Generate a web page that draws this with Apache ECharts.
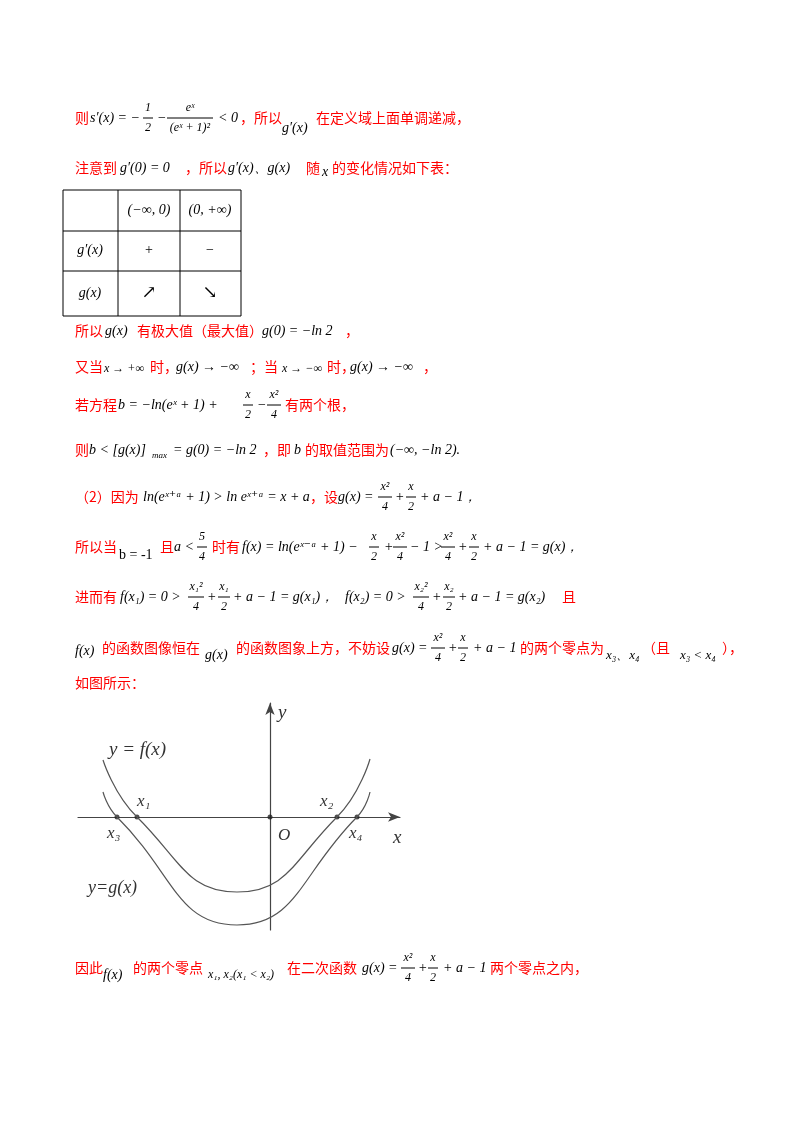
<!DOCTYPE html>
<html><head><meta charset="utf-8">
<script src="https://cdn.jsdelivr.net/npm/echarts@6/dist/echarts.min.js"></script>
<style>html,body{margin:0;padding:0;background:#fff}#main{width:800px;height:1132px}</style>
</head><body><div id="main"></div>
<script>
// curve sample points
var fPoints = [[-4.175,1.425],[-3.325,0],[-0.825,-1.875],[1.675,0],[2.5,1.45]];
var gPoints = [[-4.175,0.625],[-3.825,0],[-0.825,-2.7],[2.175,0],[2.5,0.625]];
var zeroPoints = [[-3.325,0],[1.675,0],[-3.825,0],[2.175,0],[0,0]];

var RED = '#ff0000', BLK = '#000';
var MATH = '"Liberation Serif", "DejaVu Serif", serif';
var CJK = '"Noto Sans CJK SC", sans-serif';
var els = [];

function t(x, y, s, opt) {
  opt = opt || {};
  var red = opt.red;
  els.push({type: 'text', style: {
    x: x, y: y, text: s, fill: red ? RED : BLK,
    fontSize: opt.size || 14,
    fontFamily: red ? CJK : MATH,
    fontStyle: (red || opt.upright) ? 'normal' : 'italic',
    align: opt.align || 'left', verticalAlign: 'middle'
  }});
}
function r(x, y, s) { t(x, y, s, {red: true}); }
function frac(cx, y, num, den, w) {
  w = w || 14;
  t(cx, y - 10, num, {align: 'center', size: 12});
  t(cx, y + 10, den, {align: 'center', size: 12});
  els.push({type: 'line', shape: {x1: cx - w / 2, y1: y, x2: cx + w / 2, y2: y}, style: {stroke: BLK, lineWidth: 1}});
}
function hl(x1, y1, x2, y2) {
  els.push({type: 'line', shape: {x1: x1, y1: y1, x2: x2, y2: y2}, style: {stroke: BLK, lineWidth: 1}});
}

// line 1
r(75, 118, '则');
t(90, 118, 's′(x) = −');
frac(148, 118, '1', '2', 10);
t(157, 118, '−');
frac(190, 118, 'eˣ', '(eˣ + 1)²', 46);
t(218, 118, '< 0');
r(240, 118, '，所以');
t(282, 128, 'g′(x)');
r(316, 118, '在定义域上面单调递减，');
// line 2
r(75, 168, '注意到');
t(120, 168, 'g′(0) = 0');
r(185, 168, '，所以');
t(228, 168, 'g′(x)、g(x)');
r(306, 168, '随');
t(322, 172, 'x');
r(332, 168, '的变化情况如下表：');
// table
var cols = [63, 118, 180, 241], rows = [190, 231, 271, 316];
rows.forEach(function (y) { hl(cols[0], y, cols[3], y); });
cols.forEach(function (x) { hl(x, rows[0], x, rows[3]); });
t(149, 210, '(−∞, 0)', {align: 'center'});
t(210, 210, '(0, +∞)', {align: 'center'});
t(90, 250, 'g′(x)', {align: 'center'});
t(149, 250, '+', {align: 'center', upright: true});
t(210, 250, '−', {align: 'center', upright: true});
t(90, 293, 'g(x)', {align: 'center'});
t(149, 293, '↗', {align: 'center', upright: true, size: 18});
t(210, 293, '↘', {align: 'center', upright: true, size: 18});
// line 3
r(75, 331, '所以');
t(105, 331, 'g(x)');
r(137, 331, '有极大值（最大值）');
t(262, 331, 'g(0) = −ln 2');
r(345, 331, '，');
// line 4
r(75, 367, '又当');
t(104, 369, 'x → +∞', {size: 12});
r(150, 367, '时，');
t(176, 367, 'g(x) → −∞');
r(250, 367, '；当');
t(282, 369, 'x → −∞', {size: 12});
r(327, 367, '时，');
t(350, 367, 'g(x) → −∞');
r(423, 367, '，');
// line 5
r(75, 405, '若方程');
t(118, 405, 'b = −ln(eˣ + 1) +');
frac(248, 405, 'x', '2', 10);
t(257, 405, '−');
frac(274, 405, 'x²', '4', 14);
r(285, 405, '有两个根，');
// line 6
r(75, 450, '则');
t(89, 450, 'b < [g(x)]');
t(152, 456, 'max', {size: 9});
t(173, 450, '= g(0) = −ln 2');
r(263, 450, '，即');
t(294, 450, 'b');
r(305, 450, '的取值范围为');
t(390, 450, '(−∞, −ln 2).');
// line 7
r(75, 497, '（2）因为');
t(143, 497, 'ln(eˣ⁺ᵃ + 1) > ln eˣ⁺ᵃ = x + a');
r(310, 497, '，设');
t(338, 497, 'g(x) =');
frac(385, 497, 'x²', '4', 14);
t(395, 497, '+');
frac(411, 497, 'x', '2', 10);
t(420, 497, '+ a − 1，');
// line 8
r(75, 547, '所以当');
t(119, 555, 'b = -1', {upright: true});
r(160, 547, '且');
t(174, 547, 'a <');
frac(202, 547, '5', '4', 10);
r(212, 547, '时有');
t(242, 547, 'f(x) = ln(eˣ⁻ᵃ + 1) −');
frac(374, 547, 'x', '2', 10);
t(384, 547, '+');
frac(400, 547, 'x²', '4', 14);
t(410, 547, '− 1 >');
frac(448, 547, 'x²', '4', 14);
t(458, 547, '+');
frac(474, 547, 'x', '2', 10);
t(483, 547, '+ a − 1 = g(x)，');
// line 9
r(75, 597, '进而有');
t(120, 597, 'f(x₁) = 0 >');
frac(196, 597, 'x₁²', '4', 16);
t(207, 597, '+');
frac(224, 597, 'x₁', '2', 12);
t(233, 597, '+ a − 1 = g(x₁)，');
t(345, 597, 'f(x₂) = 0 >');
frac(421, 597, 'x₂²', '4', 16);
t(432, 597, '+');
frac(449, 597, 'x₂', '2', 12);
t(458, 597, '+ a − 1 = g(x₂)');
r(562, 597, '且');
// line 10
t(75, 651, 'f(x)');
r(102, 648, '的函数图像恒在');
t(205, 655, 'g(x)');
r(236, 648, '的函数图象上方，不妨设');
t(392, 648, 'g(x) =');
frac(438, 648, 'x²', '4', 14);
t(448, 648, '+');
frac(463, 648, 'x', '2', 10);
t(473, 648, '+ a − 1');
r(520, 648, '的两个零点为');
t(606, 656, 'x₃、x₄', {size: 13});
r(642, 648, '（且');
t(680, 656, 'x₃ < x₄', {size: 13});
r(722, 648, '），');
// line 11
r(75, 683, '如图所示：');
// line 12
r(75, 968, '因此');
t(103, 975, 'f(x)');
r(133, 968, '的两个零点');
t(208, 975, 'x₁, x₂(x₁ < x₂)', {size: 12});
r(287, 968, '在二次函数');
t(362, 968, 'g(x) =');
frac(408, 968, 'x²', '4', 14);
t(418, 968, '+');
frac(433, 968, 'x', '2', 10);
t(443, 968, '+ a − 1');
r(490, 968, '两个零点之内，');
// graph labels
var LAB = {fontFamily: '"Liberation Serif", serif', fill: '#333'};
function gl(x, y, s, size) {
  els.push({type: 'text', style: Object.assign({x: x, y: y, text: s, fontSize: size || 17,
    fontStyle: 'italic', verticalAlign: 'middle'}, LAB)});
}
gl(109, 750, 'y = f(x)', 19);
gl(88, 888, 'y=g(x)', 18);
gl(137, 802, 'x₁');
gl(320, 802, 'x₂');
gl(107, 834, 'x₃');
gl(349, 834, 'x₄');
gl(278, 836, 'O');
gl(393, 838, 'x', 19);
gl(278, 713, 'y', 19);

var chart = echarts.init(document.getElementById('main'));
chart.setOption({
  backgroundColor: '#fff',
  animation: false,
  grid: {left: 78, top: 703, width: 322, height: 227},
  xAxis: {type: 'value', min: -4.8, max: 3.25, splitLine: {show: false},
    axisLabel: {show: false}, axisTick: {show: false},
    axisLine: {onZero: true, symbol: ['none', 'arrow'], symbolSize: [7, 12], lineStyle: {color: '#444', width: 1.2}}},
  yAxis: {type: 'value', min: -2.825, max: 2.85, splitLine: {show: false},
    axisLabel: {show: false}, axisTick: {show: false},
    axisLine: {onZero: true, symbol: ['none', 'arrow'], symbolSize: [7, 12], lineStyle: {color: '#444', width: 1.2}}},
  series: [
    {type: 'line', data: fPoints, smooth: 0.5, showSymbol: false, lineStyle: {color: '#555', width: 1.2}},
    {type: 'line', data: gPoints, smooth: 0.5, showSymbol: false, lineStyle: {color: '#555', width: 1.2}},
    {type: 'scatter', data: zeroPoints, symbolSize: 5, itemStyle: {color: '#222'}}
  ],
  graphic: els
});
</script></body></html>
